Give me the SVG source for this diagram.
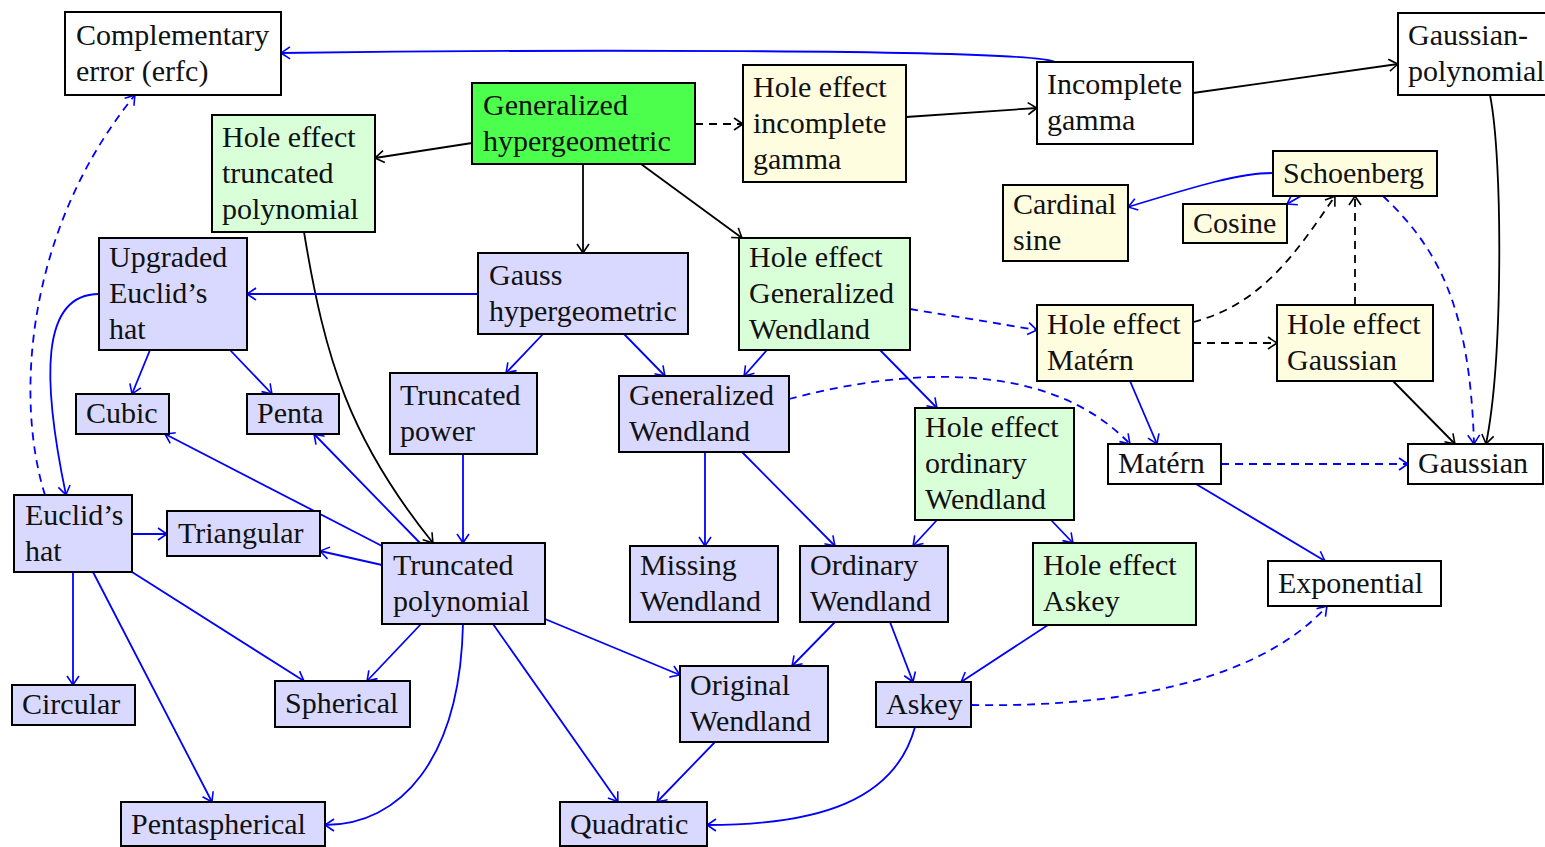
<svg xmlns="http://www.w3.org/2000/svg" width="1545" height="847" viewBox="0 0 1545 847">
<defs>
<marker id="ak" viewBox="-11 -7 12 14" refX="0" refY="0" markerWidth="12" markerHeight="14" markerUnits="userSpaceOnUse" orient="auto"><path d="M-9,-6 Q-2.5,-1.5 0,0 Q-2.5,1.5 -9,6" fill="none" stroke="#000" stroke-width="1.6" stroke-dasharray="none"/></marker>
<marker id="ab" viewBox="-11 -7 12 14" refX="0" refY="0" markerWidth="12" markerHeight="14" markerUnits="userSpaceOnUse" orient="auto"><path d="M-9,-6 Q-2.5,-1.5 0,0 Q-2.5,1.5 -9,6" fill="none" stroke="#00f" stroke-width="1.6" stroke-dasharray="none"/></marker>
</defs>
<rect x="0" y="0" width="1545" height="847" fill="#fff"/>
<g id="connectors" fill="none" stroke-width="1.8">
<g stroke="#000" marker-end="url(#ak)">
<path d="M472,143 L375,158"/>
<path d="M583,164 L583,253"/>
<path d="M641,164 L742,238"/>
<path d="M906,117 L1037,108"/>
<path d="M1193,93 L1398,64"/>
<path d="M1490,95 C1503,160 1503,360 1486,444"/>
<path d="M1393,381 L1455,444"/>
<path d="M304,232 C325,360 350,440 433,543"/>
<g stroke-dasharray="8 6">
<path d="M695,124 L743,124"/>
<path d="M1193,322 C1260,305 1295,255 1335,196"/>
<path d="M1193,343 L1277,343"/>
<path d="M1355,305 L1355,196"/>
</g>
</g>
<g stroke="#00f" marker-end="url(#ab)">
<path d="M1055,62 C1030,48 500,50 281,53"/>
<path d="M1273,173 C1240,173 1200,185 1128,207"/>
<path d="M1301,196 L1287,204"/>
<path d="M478,294 L247,294"/>
<path d="M543,334 L506,373"/>
<path d="M624,334 L665,376"/>
<path d="M767,350 L744,376"/>
<path d="M880,350 L937,408"/>
<path d="M150,350 L132,394"/>
<path d="M230,350 L272,394"/>
<path d="M99,294 C40,294 42,380 66,495"/>
<path d="M463,454 L463,543"/>
<path d="M382,546 L165,434"/>
<path d="M420,543 L314,434"/>
<path d="M382,565 L320,551"/>
<path d="M421,624 L367,681"/>
<path d="M463,624 C460,760 400,825 325,825"/>
<path d="M493,624 L618,802"/>
<path d="M545,619 L680,675"/>
<path d="M132,534 L167,534"/>
<path d="M73,572 L73,685"/>
<path d="M93,572 L212,802"/>
<path d="M132,572 L304,681"/>
<path d="M705,452 L705,546"/>
<path d="M742,452 L835,546"/>
<path d="M937,520 L913,546"/>
<path d="M1051,520 L1073,543"/>
<path d="M835,622 L792,666"/>
<path d="M890,622 L913,682"/>
<path d="M1048,625 L961,682"/>
<path d="M715,742 L657,802"/>
<path d="M915,727 C895,800 820,825 707,825"/>
<path d="M1130,381 L1157,444"/>
<path d="M1196,484 L1325,561"/>
<g stroke-dasharray="8 6">
<path d="M45,495 C15,400 25,230 135,95"/>
<path d="M910,309 L1037,330"/>
<path d="M789,399 C880,375 1040,350 1130,444"/>
<path d="M1221,464 L1408,464"/>
<path d="M1383,196 C1440,250 1470,310 1474,444"/>
<path d="M971,705 C1150,708 1270,670 1327,606"/>
</g>
</g>
</g>
<g id="nodes" stroke="#000" stroke-width="2" font-family="Liberation Serif, serif" font-size="30">
<g id="erfc"><rect fill="#fff" x="65" y="12" width="216" height="83"/><text stroke="none" fill="#111" x="76" y="44.5">Complementary<tspan x="76" y="80.5">error (erfc)</tspan></text></g>
<g id="genhyper"><rect fill="#4dff4d" x="472" y="83" width="223" height="81"/><text stroke="none" fill="#111" x="483" y="114.5">Generalized<tspan x="483" y="150.5">hypergeometric</tspan></text></g>
<g id="he-incgamma"><rect fill="#fffde0" x="743" y="65" width="163" height="117"/><text stroke="none" fill="#111" x="753" y="96.5">Hole effect<tspan x="753" y="132.5">incomplete</tspan><tspan x="753" y="168.5">gamma</tspan></text></g>
<g id="incgamma"><rect fill="#fff" x="1037" y="62" width="156" height="82"/><text stroke="none" fill="#111" x="1047" y="94">Incomplete<tspan x="1047" y="130">gamma</tspan></text></g>
<g id="gausspoly"><rect fill="#fff" x="1398" y="13" width="170" height="82"/><text stroke="none" fill="#111" x="1408" y="45">Gaussian-<tspan x="1408" y="81">polynomial</tspan></text></g>
<g id="he-truncpoly"><rect fill="#d9ffd9" x="212" y="115" width="163" height="117"/><text stroke="none" fill="#111" x="222" y="146.5">Hole effect<tspan x="222" y="182.5">truncated</tspan><tspan x="222" y="218.5">polynomial</tspan></text></g>
<g id="schoenberg"><rect fill="#fffde0" x="1273" y="151" width="164" height="45"/><text stroke="none" fill="#111" x="1283" y="182.5">Schoenberg</text></g>
<g id="cardinalsine"><rect fill="#fffde0" x="1003" y="185" width="125" height="76"/><text stroke="none" fill="#111" x="1013" y="214">Cardinal<tspan x="1013" y="250">sine</tspan></text></g>
<g id="cosine"><rect fill="#fffde0" x="1183" y="204" width="104" height="39"/><text stroke="none" fill="#111" x="1193" y="232.5">Cosine</text></g>
<g id="upgraded"><rect fill="#d9d9ff" x="99" y="238" width="148" height="112"/><text stroke="none" fill="#111" x="109" y="267">Upgraded<tspan x="109" y="303">Euclid’s</tspan><tspan x="109" y="339">hat</tspan></text></g>
<g id="gausshyper"><rect fill="#d9d9ff" x="478" y="253" width="210" height="81"/><text stroke="none" fill="#111" x="489" y="284.5">Gauss<tspan x="489" y="320.5">hypergeometric</tspan></text></g>
<g id="he-genwendland"><rect fill="#d9ffd9" x="739" y="238" width="171" height="112"/><text stroke="none" fill="#111" x="749" y="267">Hole effect<tspan x="749" y="303">Generalized</tspan><tspan x="749" y="339">Wendland</tspan></text></g>
<g id="he-matern"><rect fill="#fffde0" x="1037" y="305" width="156" height="76"/><text stroke="none" fill="#111" x="1047" y="334">Hole effect<tspan x="1047" y="370">Matérn</tspan></text></g>
<g id="he-gaussian"><rect fill="#fffde0" x="1277" y="305" width="156" height="76"/><text stroke="none" fill="#111" x="1287" y="334">Hole effect<tspan x="1287" y="370">Gaussian</tspan></text></g>
<g id="cubic"><rect fill="#d9d9ff" x="76" y="394" width="93" height="40"/><text stroke="none" fill="#111" x="86" y="423">Cubic</text></g>
<g id="penta"><rect fill="#d9d9ff" x="247" y="394" width="92" height="40"/><text stroke="none" fill="#111" x="257" y="423">Penta</text></g>
<g id="truncpower"><rect fill="#d9d9ff" x="390" y="373" width="147" height="81"/><text stroke="none" fill="#111" x="400" y="404.5">Truncated<tspan x="400" y="440.5">power</tspan></text></g>
<g id="genwendland"><rect fill="#d9d9ff" x="619" y="376" width="170" height="76"/><text stroke="none" fill="#111" x="629" y="405">Generalized<tspan x="629" y="441">Wendland</tspan></text></g>
<g id="he-ordwendland"><rect fill="#d9ffd9" x="915" y="408" width="159" height="112"/><text stroke="none" fill="#111" x="925" y="437">Hole effect<tspan x="925" y="473">ordinary</tspan><tspan x="925" y="509">Wendland</tspan></text></g>
<g id="matern"><rect fill="#fff" x="1108" y="444" width="113" height="40"/><text stroke="none" fill="#111" x="1118" y="473">Matérn</text></g>
<g id="gaussian"><rect fill="#fff" x="1408" y="444" width="135" height="40"/><text stroke="none" fill="#111" x="1418" y="473">Gaussian</text></g>
<g id="euclidhat"><rect fill="#d9d9ff" x="14" y="495" width="118" height="77"/><text stroke="none" fill="#111" x="25" y="524.5">Euclid’s<tspan x="25" y="560.5">hat</tspan></text></g>
<g id="triangular"><rect fill="#d9d9ff" x="167" y="511" width="153" height="45"/><text stroke="none" fill="#111" x="178" y="542.5">Triangular</text></g>
<g id="truncpoly"><rect fill="#d9d9ff" x="382" y="543" width="163" height="81"/><text stroke="none" fill="#111" x="393" y="574.5">Truncated<tspan x="393" y="610.5">polynomial</tspan></text></g>
<g id="missingwendland"><rect fill="#d9d9ff" x="630" y="546" width="148" height="76"/><text stroke="none" fill="#111" x="640" y="575">Missing<tspan x="640" y="611">Wendland</tspan></text></g>
<g id="ordwendland"><rect fill="#d9d9ff" x="800" y="546" width="148" height="76"/><text stroke="none" fill="#111" x="810" y="575">Ordinary<tspan x="810" y="611">Wendland</tspan></text></g>
<g id="he-askey"><rect fill="#d9ffd9" x="1033" y="543" width="163" height="82"/><text stroke="none" fill="#111" x="1043" y="575">Hole effect<tspan x="1043" y="611">Askey</tspan></text></g>
<g id="exponential"><rect fill="#fff" x="1268" y="561" width="173" height="45"/><text stroke="none" fill="#111" x="1278" y="592.5">Exponential</text></g>
<g id="circular"><rect fill="#d9d9ff" x="12" y="685" width="123" height="40"/><text stroke="none" fill="#111" x="22" y="714">Circular</text></g>
<g id="spherical"><rect fill="#d9d9ff" x="275" y="681" width="135" height="46"/><text stroke="none" fill="#111" x="285" y="713">Spherical</text></g>
<g id="origwendland"><rect fill="#d9d9ff" x="680" y="666" width="148" height="76"/><text stroke="none" fill="#111" x="690" y="695">Original<tspan x="690" y="731">Wendland</tspan></text></g>
<g id="askey"><rect fill="#d9d9ff" x="876" y="682" width="95" height="45"/><text stroke="none" fill="#111" x="886" y="713.5">Askey</text></g>
<g id="pentaspherical"><rect fill="#d9d9ff" x="121" y="802" width="204" height="44"/><text stroke="none" fill="#111" x="131" y="833.5">Pentaspherical</text></g>
<g id="quadratic"><rect fill="#d9d9ff" x="560" y="802" width="147" height="44"/><text stroke="none" fill="#111" x="570" y="833.5">Quadratic</text></g>
</g>
</svg>
